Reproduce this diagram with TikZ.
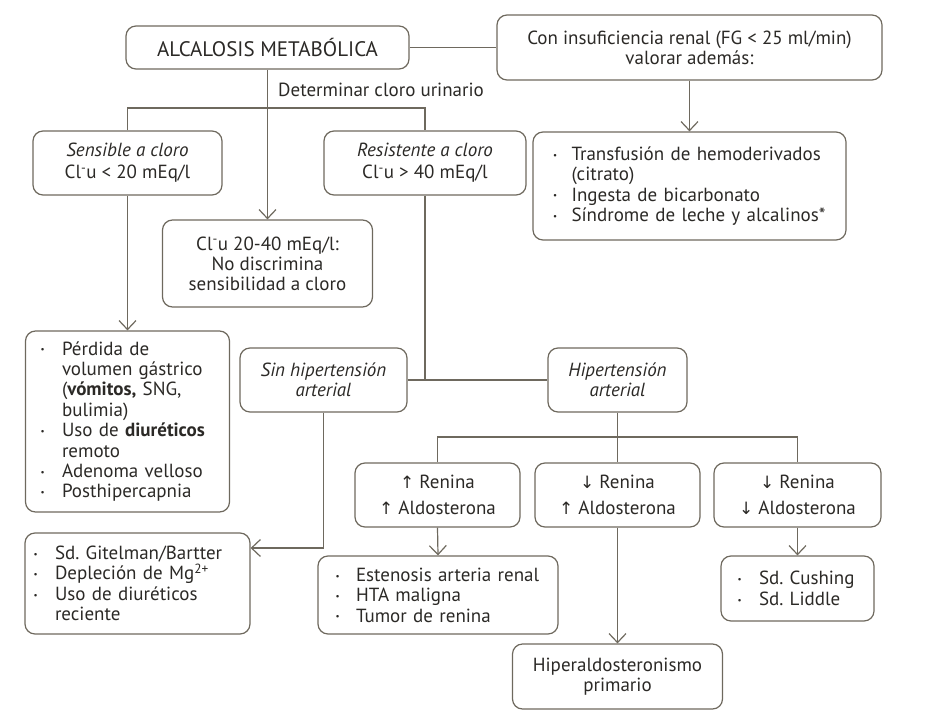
\documentclass[tikz,border=0pt]{standalone}
\usepackage{fontspec}
\setmainfont{PT Sans}
\newfontfamily\arrowfont{DejaVu Sans}
\usetikzlibrary{arrows.meta}
\definecolor{ln}{HTML}{6E695E}
\definecolor{tx}{HTML}{2B2926}
\newcommand\upar{{\arrowfont\fontsize{17}{17}\selectfont ↑}}
\newcommand\dnar{{\arrowfont\fontsize{17}{17}\selectfont ↓}}
\newcommand\dotb{\raisebox{2.2pt}{\fontsize{9}{9}\selectfont •}}
% \bul{left pad}{gap}, \ind{left pad}{gap}
\newcommand\bul[2]{\hspace*{#1}\makebox[#2][l]{\dotb}}
\newcommand\ind[2]{\hspace*{#1}\hspace*{#2}}
\begin{document}
\begin{tikzpicture}[x=1pt,y=-1pt,
  box/.style={draw=ln, line width=1.2pt, rounded corners=10pt, inner sep=0pt,
    text=tx, font=\fontsize{19}{20}\selectfont, align=center},
  lbox/.style={box, align=left, font=\fontsize{19}{20.4}\selectfont\frenchspacing},
  conn/.style={draw=ln, line width=1.2pt},
  arr/.style={conn, -{Straight Barb[length=9pt,width=17pt,line width=1.2pt]}}
]
\useasboundingbox (0,0) rectangle (944,722);

\node[box, minimum width=283pt, minimum height=43pt, font=\fontsize{21}{22}\selectfont] (b1) at (267.5,47.5) {ALCALOSIS METABÓLICA};
\node[box, minimum width=385pt, minimum height=65pt] (b2) at (689.5,47.5)
  {Con insuficiencia renal (FG < 25 ml/min)\\valorar además:};
\node[lbox, minimum width=313pt, minimum height=108pt, text width=313pt] (b3) at (689.5,186)
  {\bul{20pt}{18.5pt}Transfusión de hemoderivados\\\ind{20pt}{18.5pt}(citrato)\\\bul{20pt}{18.5pt}Ingesta de bicarbonato\\\bul{20pt}{18.5pt}Síndrome de leche y alcalinos*};

\node[box, minimum width=189pt, minimum height=64pt] (sens) at (127.5,163)
  {\textit{Sensible a cloro}\\[2pt]Cl\textsuperscript{-}u < 20 mEq/l};
\node[box, minimum width=202pt, minimum height=64pt] (resi) at (425,163)
  {\textit{Resistente a cloro}\\[2pt]Cl\textsuperscript{-}u > 40 mEq/l};
\node[box, minimum width=210pt, minimum height=87pt] (clu) at (267.5,263.5)
  {Cl\textsuperscript{-}u 20-40 mEq/l:\\No discrimina\\sensibilidad a cloro};
\node[text=tx, font=\fontsize{19}{20}\selectfont, anchor=west, inner sep=0pt] (det) at (278,90) {Determinar cloro urinario};

\node[lbox, minimum width=204pt, minimum height=181pt, text width=204pt] (perd) at (127.5,421.5)
  {\bul{15pt}{21.5pt}Pérdida de\\\ind{15pt}{21.5pt}volumen gástrico\\\ind{15pt}{21.5pt}(\textbf{vómitos,} SNG,\\\ind{15pt}{21.5pt}bulimia)\\\bul{15pt}{21.5pt}Uso de \textbf{diuréticos}\\\ind{15pt}{21.5pt}remoto\\\bul{15pt}{21.5pt}Adenoma velloso\\\bul{15pt}{21.5pt}Posthipercapnia};

\node[box, minimum width=167pt, minimum height=64pt] (sin) at (323.5,380)
  {\textit{Sin hipertensión}\\\textit{arterial}};
\node[box, minimum width=139pt, minimum height=64pt] (hip) at (617.5,380)
  {\textit{Hipertensión}\\\textit{arterial}};

\node[box, minimum width=165pt, minimum height=64pt] (r1) at (437.5,495)
  {\upar\ Renina\\[6pt]\upar\ Aldosterona};
\node[box, minimum width=165pt, minimum height=64pt] (r2) at (617.5,495)
  {\dnar\ Renina\\[6pt]\upar\ Aldosterona};
\node[box, minimum width=167pt, minimum height=64pt] (r3) at (797.5,495)
  {\dnar\ Renina\\[6pt]\dnar\ Aldosterona};

\node[lbox, minimum width=225pt, minimum height=101pt, text width=225pt] (git) at (137.5,583.5)
  {\bul{8.5pt}{21.5pt}Sd. Gitelman/Bartter\\\bul{8.5pt}{21.5pt}Depleción de Mg\textsuperscript{2+}\\\bul{8.5pt}{21.5pt}Uso de diuréticos\\\ind{8.5pt}{21.5pt}reciente};
\node[lbox, minimum width=240pt, minimum height=78pt, text width=240pt] (est) at (438,595)
  {\bul{17.5pt}{20.5pt}Estenosis arteria renal\\\bul{17.5pt}{20.5pt}HTA maligna\\\bul{17.5pt}{20.5pt}Tumor de renina};
\node[box, minimum width=210pt, minimum height=65pt] (hipa) at (617.5,676.5)
  {Hiperaldosteronismo\\primario};
\node[lbox, minimum width=153pt, minimum height=65pt, text width=153pt] (cush) at (797.5,588.5)
  {\bul{16.5pt}{21.5pt}Sd. Cushing\\\bul{16.5pt}{21.5pt}Sd. Liddle};

\coordinate (split) at (267.5,108);
\coordinate (hj) at (617.5,437);

\draw[conn] (b1.east) -- (b2.west);
\draw[arr] (b2.south) -- (b3.north);
\draw[arr] (b1.south) -- (clu.north);
\draw[conn] (sens.north) |- (split) -| (resi.north);
\draw[arr] (sens.south) -- (perd.north);
\draw[conn] (resi.south) -- (resi.south |- sin.east);
\draw[conn] (sin.east) -- (hip.west);
\draw[conn] (hip.south) -- (r2.north);
\draw[conn] (r1.north) |- (hj) -| (r3.north);
\draw[arr] (r1.south) -- (est.north);
\draw[arr] (r2.south) -- (hipa.north);
\draw[arr] (r3.south) -- (cush.north);
\draw[arr] (sin.south) |- ([yshift=35.5pt]git.east);
\end{tikzpicture}
\end{document}
